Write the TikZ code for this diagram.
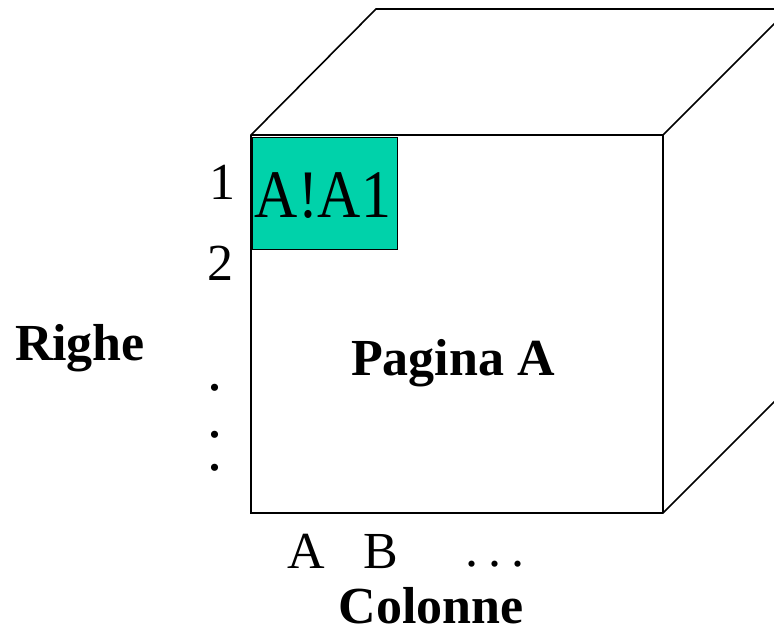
\documentclass[tikz,border=0pt]{standalone}
\usepackage{fontspec}
\setmainfont{Liberation Serif}
\definecolor{cellgreen}{RGB}{0,210,170}
\begin{document}
\begin{tikzpicture}[x=1pt,y=-1pt,
  edge/.style={draw=black,line width=1.6pt,line join=miter},
  lbl/.style={inner sep=0pt,anchor=base,font=\fontsize{52}{52}\selectfont},
  blbl/.style={lbl,font=\fontsize{52}{52}\selectfont\bfseries,text depth=0pt},
  dotlbl/.style={lbl,font=\fontsize{60}{60}\selectfont,text height=8pt,text depth=0pt}]
\useasboundingbox (0,0) rectangle (774,631);
\clip (0,0) rectangle (774,631);
% cube corners
\coordinate (ftl) at (251,135);
\coordinate (ftr) at (663,135);
\coordinate (fbr) at (663,513);
\coordinate (fbl) at (251,513);
\coordinate (btl) at (376,9);
\coordinate (btr) at (789,9);
\coordinate (bbr) at (789,387);
% faces
\draw[edge,fill=white] (ftl) -- (btl) -- (btr) -- (bbr) -- (fbr) -- (fbl) -- cycle;
\draw[edge] (ftl) -- (ftr) -- (fbr);
\draw[edge] (ftr) -- (btr);
% cell
\node[draw=black,line width=1.2pt,fill=cellgreen,minimum width=145pt,minimum height=112pt,anchor=north west,inner sep=0pt] (cell) at (251.5,137) {};
\node[lbl,font=\fontsize{68}{68}\selectfont] (celltxt) at (323,218) {\scalebox{0.88}[1]{A!A1}};
% row labels
\node[lbl] (r1) at (222,200) {1};
\node[lbl] (r2) at (220,280) {2};
\node[dotlbl] (d1) at (215,390) {.};
\node[dotlbl] (d2) at (215,437) {.};
\node[dotlbl] (d3) at (215,470) {.};
% column labels
\node[lbl] (c1) at (306,568) {A};
\node[lbl] (c2) at (381,568) {B};
\node[lbl] (c3) at (495,566) {.\hspace{10pt}.\hspace{10pt}.};
% titles
\node[blbl] (righe) at (80,360) {Righe};
\node[blbl] (pag) at (453,375) {Pagina A};
\node[blbl] (col) at (431,623) {Colonne};
\end{tikzpicture}
\end{document}
